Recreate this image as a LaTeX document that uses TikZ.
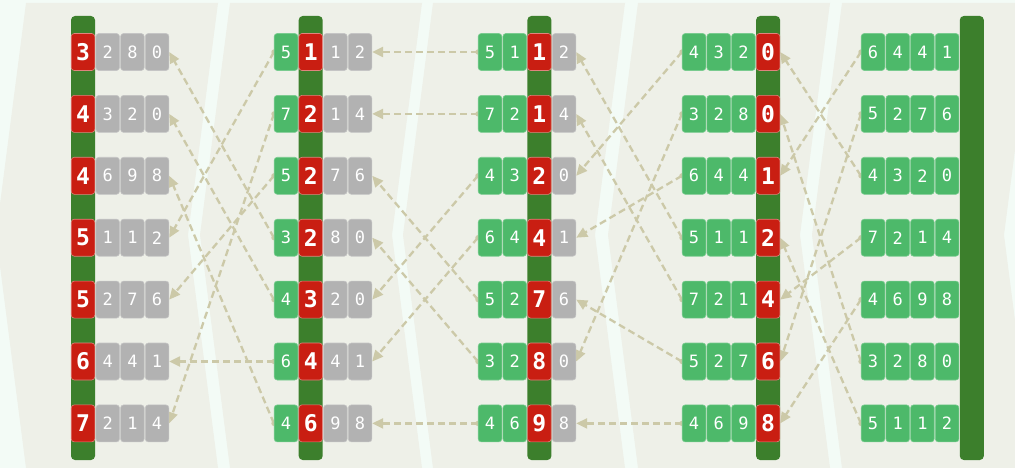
\documentclass[tikz,border=0pt]{standalone}
\usepackage{fontspec}
\newfontfamily\digitfont{DejaVu Sans Mono}
\usetikzlibrary{arrows.meta}
\definecolor{panelbg}{HTML}{EEF0E8}
\definecolor{stripec}{HTML}{F3FBF6}
\definecolor{boxred}{HTML}{C91E12}
\definecolor{boxgreen}{HTML}{4DB96A}
\definecolor{boxgray}{HTML}{B2B2B2}
\definecolor{bargreen}{HTML}{3C7F2C}
\definecolor{linkc}{HTML}{CCC9A8}
\pgfdeclarelayer{bglayer}
\pgfdeclarelayer{linklayer}
\pgfsetlayers{bglayer,linklayer,main}
\tikzset{
  dbox/.style={minimum width=23.6pt, minimum height=37pt, inner sep=0pt,
    rounded corners=3pt, text=white, line width=0.6pt,
    font=\digitfont\fontsize{17}{17}\selectfont},
  gbox/.style={dbox, fill=boxgreen, draw=boxgreen!75!white},
  rbox/.style={dbox, fill=boxred, draw=boxred!55!white,
    font=\digitfont\bfseries\fontsize{23}{23}\selectfont},
  ybox/.style={dbox, fill=boxgray, draw=boxgray!75!white},
  barstyle/.style={fill=bargreen, rounded corners=4pt},
  link/.style={draw=linkc, line width=2.3pt, dash pattern=on 7pt off 4pt,
    -{Triangle[length=11pt,width=10pt]}},
  linkdot/.style={fill=linkc}
}
\newcommand\numrow[5]{%
  \foreach \dg [count=\i from 0] in {#5} {%
    \ifnum\i<#4 \def\bst{gbox}\else\ifnum\i=#4 \def\bst{rbox}\else\def\bst{ybox}\fi\fi
    \node[\bst] (#1-\i) at ({#2+12+\i*24.7}, {#3}) {\dg};
  }%
}
\begin{document}
\begin{tikzpicture}[x=1pt,y=-1pt]
\useasboundingbox (0,0) rectangle (1015,468);
\begin{pgfonlayer}{bglayer}
  \fill[stripec] (0,0) rectangle (1015,468);
  \foreach \L/\R in {26/218,230/422,433/625,638/830,842/1034}
    \fill[panelbg] (\L,3) -- (\L-30,235) -- (\L,468) -- (\R,468) -- (\R-30,235) -- (\R,3) -- cycle;
  \foreach \bx in {71,298.7,527.4,756.1,959.8}
    \fill[barstyle] (\bx,16) rectangle ++(24,444);
\end{pgfonlayer}
% columns
\foreach \da/\db/\dc/\dd [count=\r from 0] in {3/2/8/0,4/3/2/0,4/6/9/8,5/1/1/2,5/2/7/6,6/4/4/1,7/2/1/4}
  {\numrow{A\r}{71}{52+\r*61.9}{0}{\da,\db,\dc,\dd}}
\foreach \da/\db/\dc/\dd [count=\r from 0] in {5/1/1/2,7/2/1/4,5/2/7/6,3/2/8/0,4/3/2/0,6/4/4/1,4/6/9/8}
  {\numrow{B\r}{274}{52+\r*61.9}{1}{\da,\db,\dc,\dd}}
\foreach \da/\db/\dc/\dd [count=\r from 0] in {5/1/1/2,7/2/1/4,4/3/2/0,6/4/4/1,5/2/7/6,3/2/8/0,4/6/9/8}
  {\numrow{C\r}{478}{52+\r*61.9}{2}{\da,\db,\dc,\dd}}
\foreach \da/\db/\dc/\dd [count=\r from 0] in {4/3/2/0,3/2/8/0,6/4/4/1,5/1/1/2,7/2/1/4,5/2/7/6,4/6/9/8}
  {\numrow{D\r}{682}{52+\r*61.9}{3}{\da,\db,\dc,\dd}}
\foreach \da/\db/\dc/\dd [count=\r from 0] in {6/4/4/1,5/2/7/6,4/3/2/0,7/2/1/4,4/6/9/8,3/2/8/0,5/1/1/2}
  {\numrow{E\r}{861}{52+\r*61.9}{4}{\da,\db,\dc,\dd}}
% links
\begin{pgfonlayer}{linklayer}
  \foreach \s/\t in {0/2,1/5,2/0,3/4,4/6,5/1,6/3} {
    \draw[link] (E\s-0.west) -- (D\t-3.east);
    \fill[linkdot] (E\s-0.west) circle (2.6pt);
  }
  \foreach \s/\t in {0/2,1/5,2/3,3/0,4/1,5/4,6/6} {
    \draw[link] (D\s-0.west) -- (C\t-3.east);
    \fill[linkdot] (D\s-0.west) circle (2.6pt);
  }
  \foreach \s/\t in {0/0,1/1,2/4,3/5,4/2,5/3,6/6} {
    \draw[link] (C\s-0.west) -- (B\t-3.east);
    \fill[linkdot] (C\s-0.west) circle (2.6pt);
  }
  \foreach \s/\t in {0/3,1/6,2/4,3/0,4/1,5/5,6/2} {
    \draw[link] (B\s-0.west) -- (A\t-3.east);
    \fill[linkdot] (B\s-0.west) circle (2.6pt);
  }
\end{pgfonlayer}
\end{tikzpicture}
\end{document}
